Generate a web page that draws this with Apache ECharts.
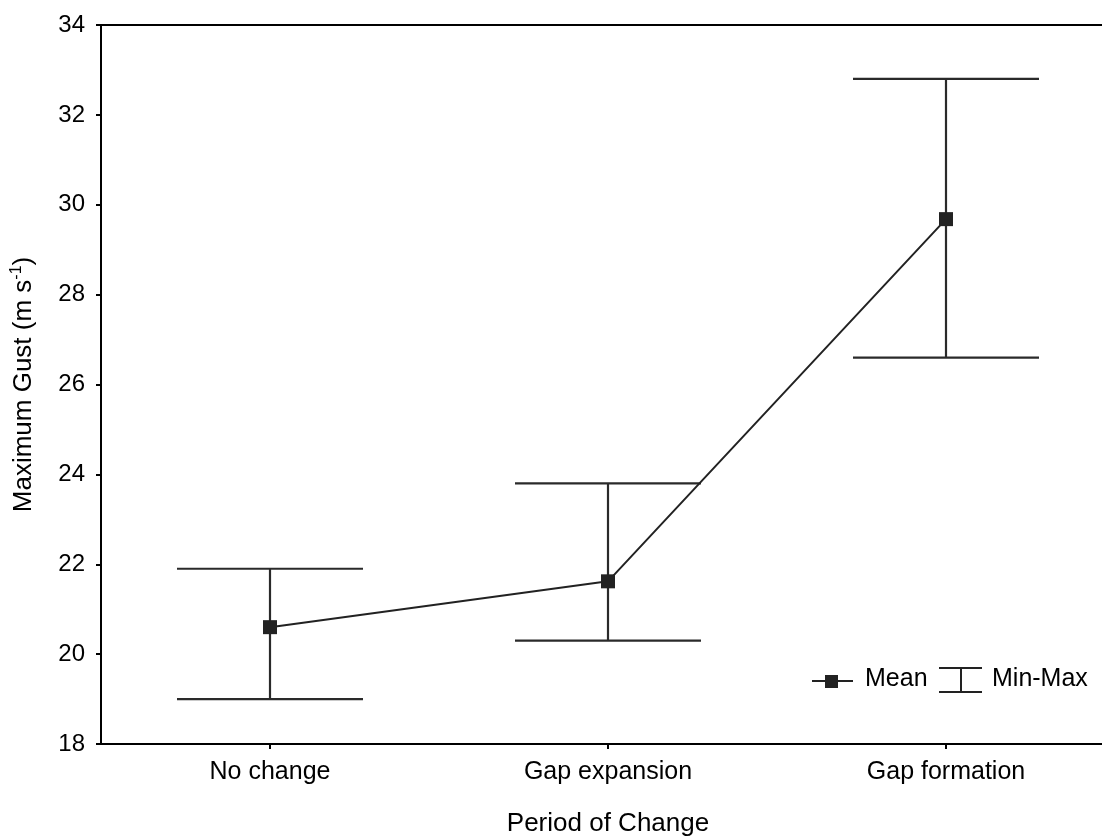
<!DOCTYPE html>
<html>
<head>
<meta charset="utf-8">
<script src="https://cdn.jsdelivr.net/npm/echarts@6/dist/echarts.min.js"></script>
<style>html,body{margin:0;padding:0;background:#fff;}#c{width:1102px;height:836px;}</style>
</head>
<body>
<div id="c"></div>
<script>
var categories = ['No change', 'Gap expansion', 'Gap formation'];
var meanValues = [20.6, 21.62, 29.68];
var minValues = [19.0, 20.3, 26.6];
var maxValues = [21.9, 23.8, 32.8];
var yTicks = [18, 20, 22, 24, 26, 28, 30, 32, 34];

var FONT = 'Liberation Sans';
var chart = echarts.init(document.getElementById('c'));
var errData = categories.map(function (c, i) { return [i, minValues[i], maxValues[i]]; });

chart.setOption({
  animation: false,
  backgroundColor: '#fff',
  textStyle: { fontFamily: FONT },
  grid: { left: 101, top: 25, width: 1014, height: 719, outerBoundsMode: 'none', containLabel: false,
    show: true, borderColor: '#000', borderWidth: 2, backgroundColor: 'transparent' },
  xAxis: {
    type: 'category',
    data: categories,
    boundaryGap: true,
    name: 'Period of Change',
    nameLocation: 'middle',
    nameGap: 67,
    nameTextStyle: { fontFamily: FONT, fontSize: 26, color: '#000' },
    axisLine: { show: true, lineStyle: { color: '#000', width: 2 } },
    axisTick: { show: true, alignWithLabel: true, length: 5, lineStyle: { color: '#000', width: 2 } },
    axisLabel: { fontFamily: FONT, fontSize: 25, color: '#000', margin: 16 },
    splitLine: { show: false }
  },
  yAxis: {
    type: 'value',
    min: yTicks[0],
    max: yTicks[yTicks.length - 1],
    interval: 2,
    name: 'Maximum Gust (m s{sup|-1})',
    nameLocation: 'middle',
    nameGap: 63,
    nameTextStyle: { fontFamily: FONT, fontSize: 26, color: '#000',
      rich: { sup: { fontFamily: FONT, fontSize: 16, color: '#000', padding: [0, 0, 13, 0] } } },
    axisLine: { show: true, lineStyle: { color: '#000', width: 2 } },
    axisTick: { show: true, length: 5, lineStyle: { color: '#000', width: 2 } },
    axisLabel: { fontFamily: FONT, fontSize: 24, color: '#000', margin: 16 },
    splitLine: { show: false }
  },
  series: [
    {
      name: 'Min-Max',
      type: 'custom',
      data: errData,
      z: 2,
      renderItem: function (params, api) {
        var x = api.value(0);
        var lo = api.coord([x, api.value(1)]);
        var hi = api.coord([x, api.value(2)]);
        var hw = 93;
        var st = { stroke: '#2a2a2a', lineWidth: 2.2 };
        return {
          type: 'group',
          children: [
            { type: 'line', shape: { x1: hi[0], y1: hi[1], x2: lo[0], y2: lo[1] }, style: st },
            { type: 'line', shape: { x1: hi[0] - hw, y1: hi[1], x2: hi[0] + hw, y2: hi[1] }, style: st },
            { type: 'line', shape: { x1: lo[0] - hw, y1: lo[1], x2: lo[0] + hw, y2: lo[1] }, style: st }
          ]
        };
      }
    },
    {
      name: 'Mean',
      type: 'line',
      data: meanValues,
      z: 3,
      symbol: 'rect',
      symbolSize: 14,
      itemStyle: { color: '#222' },
      lineStyle: { color: '#222', width: 2 }
    }
  ],
  graphic: [
    { type: 'line', shape: { x1: 812, y1: 681, x2: 853, y2: 681 }, style: { stroke: '#222', lineWidth: 2 } },
    { type: 'rect', shape: { x: 825, y: 675, width: 13, height: 13 }, style: { fill: '#222' } },
    { type: 'text', x: 865, y: 679, style: { text: 'Mean', fontFamily: FONT, fontSize: 25, fill: '#000', textVerticalAlign: 'middle', verticalAlign: 'middle' } },
    { type: 'line', shape: { x1: 939, y1: 668, x2: 982, y2: 668 }, style: { stroke: '#222', lineWidth: 2 } },
    { type: 'line', shape: { x1: 939, y1: 692, x2: 982, y2: 692 }, style: { stroke: '#222', lineWidth: 2 } },
    { type: 'line', shape: { x1: 961, y1: 668, x2: 961, y2: 692 }, style: { stroke: '#222', lineWidth: 2 } },
    { type: 'text', x: 992, y: 679, style: { text: 'Min-Max', fontFamily: FONT, fontSize: 25, fill: '#000', textVerticalAlign: 'middle', verticalAlign: 'middle' } }
  ]
});
</script>
</body>
</html>
